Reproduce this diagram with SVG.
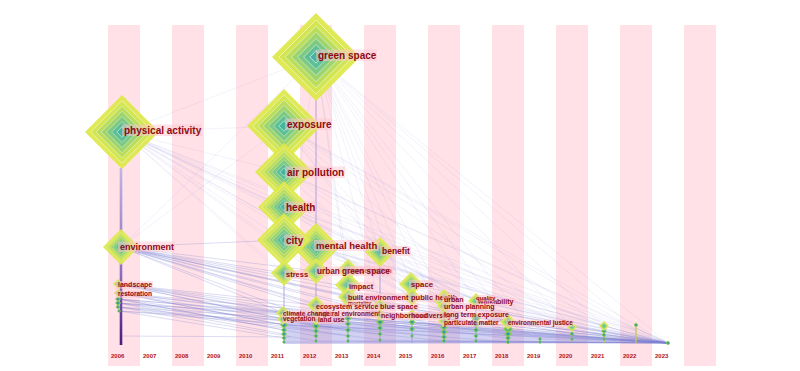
<svg xmlns="http://www.w3.org/2000/svg" xmlns:xlink="http://www.w3.org/1999/xlink" width="800" height="371" viewBox="0 0 800 371">
<style>
.st{fill:#ffe1e7}
.yr{font-family:"Liberation Sans",Arial,sans-serif;font-weight:bold;font-size:6px;fill:#b3121f}
.lb{font-family:"Liberation Sans",Arial,sans-serif;font-weight:bold;fill:#8e0a14}
.bg{fill:#ffc6d0;fill-opacity:.5}
.a{stroke:#8c8cd8;stroke-width:.8;stroke-opacity:.14}
.b{stroke:#7f80d2;stroke-width:.9;stroke-opacity:.3}
.v{stroke:#9d92d6;stroke-width:1.3;stroke-opacity:.6}
</style>
<defs>
<symbol id="dm" viewBox="-50 -50 100 100">
<path d="M0-50L50 0 0 50-50 0Z" fill="#dee84a" fill-opacity=".93"/>
<path d="M0-42L42 0 0 42-42 0Z" fill="#d2e553" stroke="#fff" stroke-width="1" stroke-opacity=".55"/>
<path d="M0-35L35 0 0 35-35 0Z" fill="#badd5e" stroke="#fff" stroke-width="1" stroke-opacity=".55"/>
<path d="M0-28L28 0 0 28-28 0Z" fill="#9dd46e" stroke="#fff" stroke-width="1" stroke-opacity=".55"/>
<path d="M0-21L21 0 0 21-21 0Z" fill="#7cc983" stroke="#fff" stroke-width="1" stroke-opacity=".55"/>
<path d="M0-14L14 0 0 14-14 0Z" fill="#5cbf95" stroke="#fff" stroke-width="1" stroke-opacity=".55"/>
<path d="M0-7L7 0 0 7-7 0Z" fill="#44b5a2" stroke="#fff" stroke-width="1" stroke-opacity=".7"/>
</symbol>
<symbol id="ds" viewBox="-50 -50 100 100">
<path d="M0-50L50 0 0 50-50 0Z" fill="#8ccc4e"/>
<path d="M0-32L32 0 0 32-32 0Z" fill="#4db48c"/>
<path d="M0-15L15 0 0 15-15 0Z" fill="#2f7fb8"/>
</symbol>
<linearGradient id="pl" x1="0" y1="168" x2="0" y2="345" gradientUnits="userSpaceOnUse">
<stop offset="0" stop-color="#c4b4e2"/>
<stop offset=".6" stop-color="#8a6cc0"/>
<stop offset="1" stop-color="#4a1a80"/>
</linearGradient>
</defs>

<g id="stripes">
<rect class="st" x="108" y="25" width="32" height="341"/>
<rect class="st" x="172" y="25" width="32" height="341"/>
<rect class="st" x="236" y="25" width="32" height="341"/>
<rect class="st" x="300" y="25" width="32" height="341"/>
<rect class="st" x="364" y="25" width="32" height="341"/>
<rect class="st" x="428" y="25" width="32" height="341"/>
<rect class="st" x="492" y="25" width="32" height="341"/>
<rect class="st" x="556" y="25" width="32" height="341"/>
<rect class="st" x="620" y="25" width="32" height="341"/>
<rect class="st" x="684" y="25" width="32" height="341"/>
</g>
<g id="years">
<text class="yr" x="111" y="358">2006</text>
<text class="yr" x="143" y="358">2007</text>
<text class="yr" x="175" y="358">2008</text>
<text class="yr" x="207" y="358">2009</text>
<text class="yr" x="239" y="358">2010</text>
<text class="yr" x="271" y="358">2011</text>
<text class="yr" x="303" y="358">2012</text>
<text class="yr" x="335" y="358">2013</text>
<text class="yr" x="367" y="358">2014</text>
<text class="yr" x="399" y="358">2015</text>
<text class="yr" x="431" y="358">2016</text>
<text class="yr" x="463" y="358">2017</text>
<text class="yr" x="495" y="358">2018</text>
<text class="yr" x="527" y="358">2019</text>
<text class="yr" x="559" y="358">2020</text>
<text class="yr" x="591" y="358">2021</text>
<text class="yr" x="623" y="358">2022</text>
<text class="yr" x="655" y="358">2023</text>
</g>

<g id="connectors">
<polygon points="284,318 330,320 400,325 470,329 540,334 610,339 668,343 284,344" fill="#9a9ae2" fill-opacity=".45"/>
<line class="a" x1="122" y1="132" x2="316" y2="57"/>
<line class="a" x1="122" y1="132" x2="284" y2="126"/>
<line class="a" x1="122" y1="132" x2="284" y2="172"/>
<line class="a" x1="122" y1="132" x2="284" y2="207"/>
<line class="a" x1="122" y1="132" x2="284" y2="240"/>
<line class="a" x1="122" y1="132" x2="284" y2="273"/>
<line class="a" x1="122" y1="132" x2="316" y2="247"/>
<line class="a" x1="122" y1="132" x2="316" y2="305"/>
<line class="a" x1="122" y1="132" x2="348" y2="297"/>
<line class="a" x1="122" y1="132" x2="380" y2="315"/>
<line class="a" x1="122" y1="132" x2="412" y2="297"/>
<line class="a" x1="122" y1="132" x2="444" y2="314"/>
<line class="a" x1="122" y1="132" x2="508" y2="322"/>
<line class="a" x1="122" y1="132" x2="572" y2="327"/>
<line class="a" x1="122" y1="132" x2="604" y2="326"/>
<line class="a" x1="122" y1="132" x2="668" y2="343"/>
<line class="a" x1="122" y1="132" x2="380" y2="252"/>
<line class="a" x1="122" y1="132" x2="476" y2="301"/>
<line class="a" x1="316" y1="57" x2="121" y2="247"/>
<line class="a" x1="316" y1="57" x2="284" y2="273"/>
<line class="a" x1="316" y1="57" x2="348" y2="285"/>
<line class="a" x1="316" y1="57" x2="380" y2="252"/>
<line class="a" x1="316" y1="57" x2="412" y2="284"/>
<line class="a" x1="316" y1="57" x2="444" y2="300"/>
<line class="a" x1="316" y1="57" x2="476" y2="301"/>
<line class="a" x1="316" y1="57" x2="508" y2="322"/>
<line class="a" x1="316" y1="57" x2="540" y2="340"/>
<line class="a" x1="316" y1="57" x2="572" y2="327"/>
<line class="a" x1="316" y1="57" x2="604" y2="326"/>
<line class="a" x1="316" y1="57" x2="636" y2="330"/>
<line class="a" x1="316" y1="57" x2="668" y2="343"/>
<line class="a" x1="316" y1="57" x2="412" y2="315"/>
<line class="a" x1="316" y1="57" x2="444" y2="321"/>
<line class="a" x1="316" y1="57" x2="348" y2="270"/>
<line class="a" x1="316" y1="57" x2="380" y2="305"/>
<line class="a" x1="284" y1="126" x2="121" y2="247"/>
<line class="a" x1="284" y1="126" x2="412" y2="284"/>
<line class="a" x1="284" y1="126" x2="444" y2="300"/>
<line class="a" x1="284" y1="126" x2="508" y2="322"/>
<line class="a" x1="284" y1="126" x2="572" y2="327"/>
<line class="a" x1="284" y1="126" x2="604" y2="326"/>
<line class="a" x1="284" y1="126" x2="668" y2="343"/>
<line class="a" x1="284" y1="126" x2="636" y2="330"/>
<line class="a" x1="284" y1="126" x2="380" y2="252"/>
<line class="a" x1="284" y1="172" x2="444" y2="314"/>
<line class="a" x1="284" y1="172" x2="508" y2="322"/>
<line class="a" x1="284" y1="172" x2="572" y2="327"/>
<line class="a" x1="284" y1="172" x2="636" y2="330"/>
<line class="a" x1="284" y1="172" x2="668" y2="343"/>
<line class="a" x1="284" y1="172" x2="412" y2="297"/>
<line class="a" x1="284" y1="207" x2="412" y2="297"/>
<line class="a" x1="284" y1="207" x2="476" y2="301"/>
<line class="a" x1="284" y1="207" x2="604" y2="326"/>
<line class="a" x1="284" y1="207" x2="668" y2="343"/>
<line class="a" x1="284" y1="207" x2="540" y2="340"/>
<line class="a" x1="284" y1="240" x2="380" y2="305"/>
<line class="a" x1="284" y1="240" x2="444" y2="320"/>
<line class="a" x1="284" y1="240" x2="508" y2="322"/>
<line class="a" x1="284" y1="240" x2="572" y2="327"/>
<line class="a" x1="284" y1="240" x2="668" y2="343"/>
<line class="a" x1="316" y1="247" x2="412" y2="297"/>
<line class="a" x1="316" y1="247" x2="508" y2="322"/>
<line class="a" x1="316" y1="247" x2="604" y2="326"/>
<line class="a" x1="316" y1="247" x2="636" y2="330"/>
<line class="a" x1="316" y1="247" x2="668" y2="343"/>
<line class="a" x1="316" y1="247" x2="444" y2="300"/>
<line class="a" x1="380" y1="252" x2="476" y2="301"/>
<line class="a" x1="380" y1="252" x2="572" y2="327"/>
<line class="a" x1="380" y1="252" x2="668" y2="343"/>
<line class="a" x1="380" y1="252" x2="508" y2="322"/>
<line class="a" x1="411" y1="284" x2="508" y2="322"/>
<line class="a" x1="411" y1="284" x2="604" y2="326"/>
<line class="a" x1="411" y1="284" x2="668" y2="343"/>
<line class="b" x1="121" y1="247" x2="284" y2="273"/>
<line class="b" x1="121" y1="247" x2="284" y2="313"/>
<line class="b" x1="121" y1="247" x2="316" y2="271"/>
<line class="b" x1="121" y1="247" x2="316" y2="305"/>
<line class="b" x1="121" y1="247" x2="316" y2="320"/>
<line class="b" x1="121" y1="247" x2="348" y2="297"/>
<line class="b" x1="121" y1="247" x2="348" y2="318"/>
<line class="b" x1="121" y1="247" x2="380" y2="322"/>
<line class="b" x1="121" y1="247" x2="412" y2="322"/>
<line class="b" x1="121" y1="247" x2="444" y2="327"/>
<line class="b" x1="121" y1="247" x2="476" y2="324"/>
<line class="b" x1="121" y1="247" x2="508" y2="329"/>
<line class="b" x1="121" y1="247" x2="572" y2="334"/>
<line class="b" x1="121" y1="247" x2="668" y2="343"/>
<line class="b" x1="121" y1="247" x2="284" y2="240"/>
<line class="b" x1="118" y1="284" x2="284" y2="319"/>
<line class="b" x1="118" y1="284" x2="316" y2="326"/>
<line class="b" x1="118" y1="284" x2="380" y2="328"/>
<line class="b" x1="118" y1="284" x2="444" y2="332"/>
<line class="b" x1="118" y1="284" x2="508" y2="334"/>
<line class="b" x1="118" y1="284" x2="668" y2="343"/>
<line class="b" x1="118" y1="284" x2="348" y2="324"/>
<line class="b" x1="118" y1="293" x2="284" y2="325"/>
<line class="b" x1="118" y1="293" x2="348" y2="330"/>
<line class="b" x1="118" y1="293" x2="412" y2="329"/>
<line class="b" x1="118" y1="293" x2="508" y2="338"/>
<line class="b" x1="118" y1="293" x2="668" y2="343"/>
<line class="b" x1="118" y1="293" x2="316" y2="331"/>
<line class="b" x1="118" y1="299" x2="284" y2="330"/>
<line class="b" x1="118" y1="299" x2="316" y2="336"/>
<line class="b" x1="118" y1="299" x2="476" y2="330"/>
<line class="b" x1="118" y1="299" x2="668" y2="343"/>
<line class="b" x1="118" y1="299" x2="380" y2="334"/>
<line class="b" x1="118" y1="303" x2="284" y2="334"/>
<line class="b" x1="118" y1="303" x2="380" y2="340"/>
<line class="b" x1="118" y1="303" x2="604" y2="335"/>
<line class="b" x1="118" y1="303" x2="668" y2="343"/>
<line class="b" x1="118" y1="303" x2="444" y2="337"/>
<line class="b" x1="118" y1="307" x2="316" y2="341"/>
<line class="b" x1="118" y1="307" x2="444" y2="341"/>
<line class="b" x1="118" y1="307" x2="668" y2="343"/>
<line class="b" x1="118" y1="307" x2="348" y2="336"/>
<line class="b" x1="119" y1="311" x2="284" y2="338"/>
<line class="b" x1="119" y1="311" x2="508" y2="342"/>
<line class="b" x1="119" y1="311" x2="668" y2="343"/>
<line class="b" x1="122" y1="336" x2="290" y2="337"/>
<line class="b" x1="284" y1="313" x2="668" y2="343"/>
<line class="b" x1="284" y1="325" x2="668" y2="343"/>
<line class="b" x1="284" y1="342" x2="668" y2="343"/>
<line class="b" x1="316" y1="305" x2="668" y2="343"/>
<line class="b" x1="316" y1="326" x2="668" y2="343"/>
<line class="b" x1="316" y1="341" x2="668" y2="343"/>
<line class="b" x1="348" y1="297" x2="668" y2="343"/>
<line class="b" x1="348" y1="318" x2="668" y2="343"/>
<line class="b" x1="348" y1="341" x2="668" y2="343"/>
<line class="b" x1="380" y1="305" x2="668" y2="343"/>
<line class="b" x1="380" y1="322" x2="668" y2="343"/>
<line class="b" x1="380" y1="340" x2="668" y2="343"/>
<line class="b" x1="412" y1="297" x2="668" y2="343"/>
<line class="b" x1="412" y1="322" x2="668" y2="343"/>
<line class="b" x1="444" y1="300" x2="668" y2="343"/>
<line class="b" x1="444" y1="327" x2="668" y2="343"/>
<line class="b" x1="444" y1="341" x2="668" y2="343"/>
<line class="b" x1="476" y1="301" x2="668" y2="343"/>
<line class="b" x1="476" y1="318" x2="668" y2="343"/>
<line class="b" x1="476" y1="341" x2="668" y2="343"/>
<line class="b" x1="508" y1="322" x2="668" y2="343"/>
<line class="b" x1="508" y1="334" x2="668" y2="343"/>
<line class="b" x1="540" y1="339" x2="668" y2="343"/>
<line class="b" x1="572" y1="327" x2="668" y2="343"/>
<line class="b" x1="604" y1="326" x2="668" y2="343"/>
<line class="b" x1="636" y1="328" x2="668" y2="343"/>
</g>

<g id="timelines">
<line x1="121" y1="168" x2="121" y2="345" stroke="url(#pl)" stroke-width="2.6"/>
<line class="v" x1="284" y1="100" x2="284" y2="343"/>
<line class="v" x1="316" y1="100" x2="316" y2="343"/>
<line class="v" x1="348" y1="270" x2="348" y2="343"/>
<line class="v" x1="380" y1="252" x2="380" y2="343"/>
<line class="v" x1="412" y1="284" x2="412" y2="343"/>
<line class="v" x1="444" y1="300" x2="444" y2="343"/>
<line class="v" x1="476" y1="301" x2="476" y2="343"/>
<line class="v" x1="508" y1="322" x2="508" y2="343"/>
<line class="v" x1="540" y1="337" x2="540" y2="343"/>
<line class="v" x1="572" y1="327" x2="572" y2="343"/>
<line x1="604" y1="326" x2="604" y2="343" stroke="#b6c846" stroke-width="1.3"/>
<line x1="636" y1="324" x2="636" y2="343" stroke="#c8c84a" stroke-width="1.3"/>
</g>

<g id="small-nodes">
<use href="#ds" x="115" y="296" width="6" height="6"/>
<use href="#ds" x="115" y="300" width="6" height="6"/>
<use href="#ds" x="115.5" y="304.5" width="5" height="5"/>
<use href="#ds" x="117" y="309" width="4" height="4"/>
<use href="#ds" x="280" y="321" width="8" height="8"/>
<use href="#ds" x="281" y="327" width="6" height="6"/>
<use href="#ds" x="281" y="331" width="6" height="6"/>
<use href="#ds" x="281.5" y="335.5" width="5" height="5"/>
<use href="#ds" x="282" y="340" width="4" height="4"/>
<use href="#ds" x="312" y="322" width="8" height="8"/>
<use href="#ds" x="313" y="328" width="6" height="6"/>
<use href="#ds" x="313.5" y="333.5" width="5" height="5"/>
<use href="#ds" x="314" y="339" width="4" height="4"/>
<use href="#ds" x="344" y="314" width="8" height="8"/>
<use href="#ds" x="345" y="321" width="6" height="6"/>
<use href="#ds" x="345" y="327" width="6" height="6"/>
<use href="#ds" x="345.5" y="333.5" width="5" height="5"/>
<use href="#ds" x="346" y="339" width="4" height="4"/>
<use href="#ds" x="376" y="318" width="8" height="8"/>
<use href="#ds" x="377" y="325" width="6" height="6"/>
<use href="#ds" x="377.5" y="331.5" width="5" height="5"/>
<use href="#ds" x="378" y="338" width="4" height="4"/>
<use href="#ds" x="408.5" y="318.5" width="7" height="7"/>
<use href="#ds" x="409" y="326" width="6" height="6"/>
<use href="#ds" x="410" y="334" width="4" height="4"/>
<use href="#ds" x="440" y="323" width="8" height="8"/>
<use href="#ds" x="440.5" y="328.5" width="7" height="7"/>
<use href="#ds" x="441" y="334" width="6" height="6"/>
<use href="#ds" x="441.5" y="338.5" width="5" height="5"/>
<use href="#ds" x="471" y="313" width="10" height="10"/>
<use href="#ds" x="472" y="320" width="8" height="8"/>
<use href="#ds" x="473" y="327" width="6" height="6"/>
<use href="#ds" x="473.5" y="333.5" width="5" height="5"/>
<use href="#ds" x="474" y="339" width="4" height="4"/>
<use href="#ds" x="503" y="324" width="10" height="10"/>
<use href="#ds" x="504" y="330" width="8" height="8"/>
<use href="#ds" x="505" y="335" width="6" height="6"/>
<use href="#ds" x="505.5" y="339.5" width="5" height="5"/>
<use href="#ds" x="538" y="337" width="4" height="4"/>
<use href="#ds" x="538" y="340" width="4" height="4"/>
<use href="#ds" x="569.5" y="331.5" width="5" height="5"/>
<use href="#ds" x="570" y="337" width="4" height="4"/>
<use href="#ds" x="601" y="328" width="6" height="6"/>
<use href="#ds" x="601.5" y="332.5" width="5" height="5"/>
<use href="#ds" x="602" y="337" width="4" height="4"/>
<use href="#ds" x="633.5" y="322.5" width="5" height="5"/>
<use href="#ds" x="665.5" y="340.5" width="5" height="5"/>
</g>

<g id="nodes">
<g id="n-physical-activity"><use href="#dm" x="85" y="95" width="74" height="74"/></g>
<g id="n-green-space"><use href="#dm" x="272" y="13" width="88" height="88"/></g>
<g id="n-exposure"><use href="#dm" x="247" y="89" width="74" height="74"/></g>
<g id="n-air-pollution"><use href="#dm" x="255" y="143" width="58" height="58"/></g>
<g id="n-health"><use href="#dm" x="258" y="181" width="52" height="52"/></g>
<g id="n-mental-health"><use href="#dm" x="292" y="223" width="48" height="48"/></g>
<g id="n-city"><use href="#dm" x="257" y="213" width="54" height="54"/></g>
<g id="n-environment"><use href="#dm" x="103" y="229" width="36" height="36"/></g>
<g id="n-benefit"><use href="#dm" x="365" y="237" width="30" height="30"/></g>
<g id="n-conservation"><use href="#dm" x="337" y="259" width="22" height="22"/></g>
<g id="n-urban-green-space"><use href="#dm" x="303" y="258" width="26" height="26"/></g>
<g id="n-stress"><use href="#dm" x="271" y="260" width="26" height="26"/></g>
<g id="n-impact"><use href="#dm" x="335" y="272" width="26" height="26"/></g>
<g id="n-mortality"><use href="#dm" x="343" y="299" width="10" height="10"/></g>
<g id="n-built-environment"><use href="#dm" x="338" y="287" width="20" height="20"/></g>
<g id="n-space"><use href="#dm" x="399" y="272" width="24" height="24"/></g>
<g id="n-public-health"><use href="#dm" x="403" y="288" width="18" height="18"/></g>
<g id="n-urban"><use href="#dm" x="433" y="289" width="22" height="22"/></g>
<g id="n-walkability"><use href="#dm" x="471" y="300" width="10" height="10"/></g>
<g id="n-urban-planning"><use href="#dm" x="437" y="299" width="14" height="14"/></g>
<g id="n-quality"><use href="#dm" x="468" y="293" width="16" height="16"/></g>
<g id="n-ecosystem-service"><use href="#dm" x="307" y="296" width="18" height="18"/></g>
<g id="n-blue-space"><use href="#dm" x="373" y="298" width="14" height="14"/></g>
<g id="n-natural-environment"><use href="#dm" x="311" y="309" width="10" height="10"/></g>
<g id="n-climate-change"><use href="#dm" x="276" y="306" width="14" height="14"/></g>
<g id="n-vegetation"><use href="#dm" x="277" y="313" width="12" height="12"/></g>
<g id="n-land-use"><use href="#dm" x="311" y="315" width="10" height="10"/></g>
<g id="n-biodiversity"><use href="#dm" x="406" y="309" width="12" height="12"/></g>
<g id="n-neighborhood"><use href="#dm" x="374" y="309" width="12" height="12"/></g>
<g id="n-long-term-exposure"><use href="#dm" x="437" y="308" width="14" height="14"/></g>
<g id="n-particulate-matter"><use href="#dm" x="438" y="315" width="12" height="12"/></g>
<g id="n-environmental-justice"><use href="#dm" x="500" y="314" width="16" height="16"/></g>
<g id="n-landscape"><use href="#dm" x="113" y="279" width="10" height="10"/></g>
<g id="n-restoration"><use href="#dm" x="114" y="289" width="8" height="8"/></g>
<g id="n-2020"><use href="#dm" x="567" y="322" width="10" height="10"/></g>
<g id="n-2021"><use href="#dm" x="599" y="321" width="10" height="10"/></g>
</g>

<g id="labels">
<g id="l-physical-activity"><rect class="bg" x="122" y="124.5" width="80" height="11.5"/><text class="lb" x="124" y="134" font-size="10">physical activity</text></g>
<g id="l-green-space"><rect class="bg" x="316" y="49.5" width="61" height="11.5"/><text class="lb" x="318" y="59" font-size="10">green space</text></g>
<g id="l-exposure"><rect class="bg" x="285" y="118.5" width="47" height="11.5"/><text class="lb" x="287" y="128" font-size="10">exposure</text></g>
<g id="l-air-pollution"><rect class="bg" x="285" y="166.5" width="60" height="11.5"/><text class="lb" x="287" y="176" font-size="10">air pollution</text></g>
<g id="l-health"><rect class="bg" x="284" y="201.5" width="32" height="11.5"/><text class="lb" x="286" y="211" font-size="10">health</text></g>
<g id="l-city"><rect class="bg" x="284" y="234.5" width="20" height="11.5"/><text class="lb" x="286" y="244" font-size="10">city</text></g>
<g id="l-mental-health"><rect class="bg" x="314" y="240" width="65" height="11"/><text class="lb" x="316" y="249" font-size="9.5">mental health</text></g>
<g id="l-environment"><rect class="bg" x="118" y="241.5" width="57" height="10.5"/><text class="lb" x="120" y="250" font-size="9">environment</text></g>
<g id="l-benefit"><rect class="bg" x="380" y="246" width="31" height="10"/><text class="lb" x="382" y="254" font-size="8.5">benefit</text></g>
<g id="l-conservation"><rect class="bg" x="346" y="266" width="47" height="8.5"/><text class="lb" x="348" y="273" font-size="7">conservation</text></g>
<g id="l-urban-green-space"><rect class="bg" x="315" y="266.5" width="76" height="9.5"/><text class="lb" x="317" y="274" font-size="8.2">urban green space</text></g>
<g id="l-stress"><rect class="bg" x="284" y="270" width="25" height="9"/><text class="lb" x="286" y="277" font-size="7.5">stress</text></g>
<g id="l-impact"><rect class="bg" x="347" y="282" width="27" height="9"/><text class="lb" x="349" y="289" font-size="7.5">impact</text></g>
<g id="l-mortality"><rect class="bg" x="347" y="300" width="25" height="6.5"/><text class="lb" x="348" y="305" font-size="5.5">mortality</text></g>
<g id="l-built-environment"><rect class="bg" x="346" y="293" width="63" height="8.5"/><text class="lb" x="348" y="300" font-size="7.2">built environment</text></g>
<g id="l-space"><rect class="bg" x="409" y="280" width="25" height="9"/><text class="lb" x="411" y="287" font-size="7.8">space</text></g>
<g id="l-public-health"><rect class="bg" x="409" y="293.5" width="49" height="8.5"/><text class="lb" x="411" y="300" font-size="7.5">public health</text></g>
<g id="l-urban"><rect class="bg" x="442" y="296" width="22" height="8"/><text class="lb" x="444" y="302" font-size="7">urban</text></g>
<g id="l-walkability"><rect class="bg" x="476" y="298" width="39" height="8"/><text class="lb" x="478" y="304" font-size="7">walkability</text></g>
<g id="l-urban-planning"><rect class="bg" x="442" y="303" width="54" height="8"/><text class="lb" x="444" y="309" font-size="7">urban planning</text></g>
<g id="l-quality"><rect class="bg" x="475" y="295" width="21" height="6.5"/><text class="lb" x="476" y="300" font-size="6">quality</text></g>
<g id="l-ecosystem-service"><rect class="bg" x="314" y="303" width="66" height="8"/><text class="lb" x="316" y="309" font-size="7">ecosystem service</text></g>
<g id="l-blue-space"><rect class="bg" x="378" y="302.5" width="41" height="8.5"/><text class="lb" x="380" y="309" font-size="7.3">blue space</text></g>
<g id="l-natural-environment"><rect class="bg" x="317" y="310.5" width="64" height="7.5"/><text class="lb" x="318" y="316" font-size="6.5">natural environment</text></g>
<g id="l-climate-change"><rect class="bg" x="282" y="310.5" width="49" height="7.5"/><text class="lb" x="283" y="316" font-size="6.5">climate change</text></g>
<g id="l-vegetation"><rect class="bg" x="282" y="315.5" width="35" height="7.5"/><text class="lb" x="283" y="321" font-size="6.5">vegetation</text></g>
<g id="l-land-use"><rect class="bg" x="317" y="316.5" width="28" height="7.5"/><text class="lb" x="318" y="322" font-size="6.5">land use</text></g>
<g id="l-biodiversity"><rect class="bg" x="410" y="312" width="41" height="8"/><text class="lb" x="412" y="318" font-size="7">biodiversity</text></g>
<g id="l-neighborhood"><rect class="bg" x="379" y="312" width="49" height="8"/><text class="lb" x="381" y="318" font-size="7">neighborhood</text></g>
<g id="l-long-term-exposure"><rect class="bg" x="442" y="311" width="65" height="8"/><text class="lb" x="444" y="317" font-size="7">long term exposure</text></g>
<g id="l-particulate-matter"><rect class="bg" x="442" y="319.5" width="57" height="7.5"/><text class="lb" x="444" y="325" font-size="6.5">particulate matter</text></g>
<g id="l-environmental-justice"><rect class="bg" x="506" y="319.5" width="68" height="7.5"/><text class="lb" x="508" y="325" font-size="6.3">environmental justice</text></g>
<g id="l-landscape"><rect class="bg" x="116" y="281" width="37" height="8"/><text class="lb" x="118" y="287" font-size="7">landscape</text></g>
<g id="l-restoration"><rect class="bg" x="116" y="290.5" width="36" height="7.5"/><text class="lb" x="118" y="296" font-size="6.5">restoration</text></g>
</g>
</svg>
